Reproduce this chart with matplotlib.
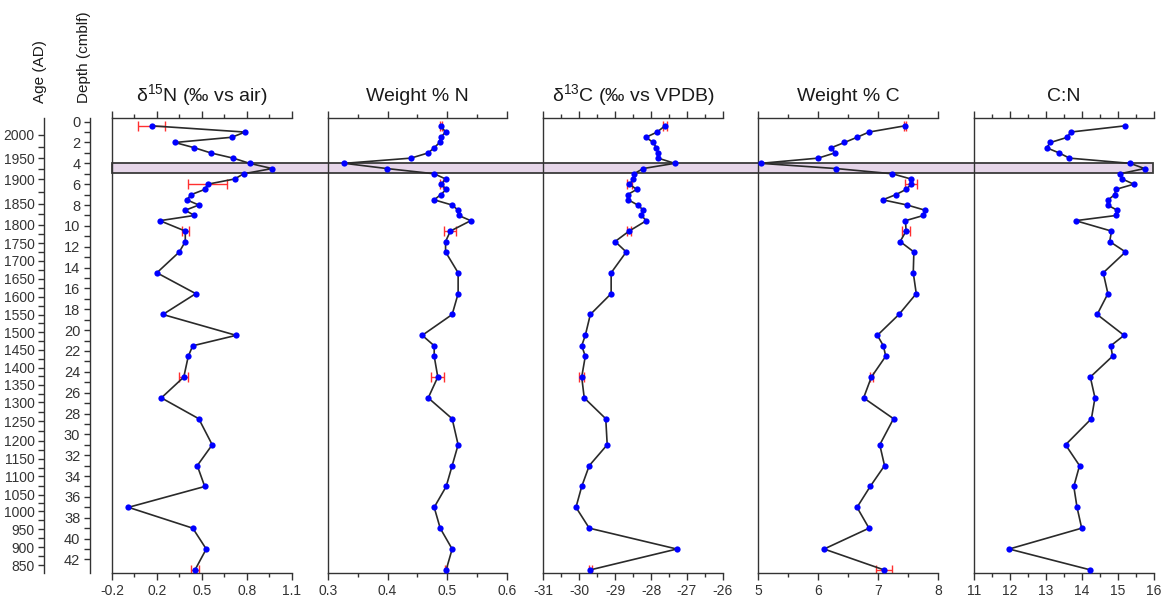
import numpy as np
import matplotlib
matplotlib.use("Agg")
import matplotlib.pyplot as plt
from matplotlib.patches import Rectangle
from matplotlib.ticker import FixedLocator, FixedFormatter, MultipleLocator
import matplotlib.transforms as mtransforms

plt.rcParams['font.family'] = ['Liberation Sans', 'DejaVu Sans']
plt.rcParams['mathtext.fontset'] = 'custom'
plt.rcParams['mathtext.rm'] = 'Liberation Sans'
plt.rcParams['axes.unicode_minus'] = False

# sample depths (cm below lake floor)
depth = [0.4, 1, 1.5, 2, 2.5, 3, 3.5, 4, 4.5, 5, 5.5, 6, 6.5, 7, 7.5, 8, 8.5, 9, 9.5,
         10.5, 11.5, 12.5, 14.5, 16.5, 18.5, 20.5, 21.5, 22.5, 24.5, 26.5, 28.5,
         31, 33, 35, 37, 39, 41, 43]

d15n = [0.165, 0.79, 0.70, 0.32, 0.45, 0.56, 0.71, 0.82, 0.97, 0.78, 0.72, 0.54, 0.52,
        0.43, 0.40, 0.48, 0.39, 0.45, 0.22, 0.39, 0.39, 0.35, 0.20, 0.46, 0.24, 0.73,
        0.44, 0.41, 0.38, 0.23, 0.48, 0.57, 0.47, 0.52, 0.01, 0.44, 0.53, 0.455]

wt_n = [0.489, 0.497, 0.489, 0.487, 0.478, 0.468, 0.439, 0.328, 0.399, 0.478, 0.497,
        0.490, 0.498, 0.489, 0.478, 0.508, 0.518, 0.519, 0.539, 0.505, 0.497, 0.497,
        0.518, 0.518, 0.508, 0.458, 0.478, 0.478, 0.484, 0.468, 0.508, 0.518, 0.508,
        0.498, 0.478, 0.488, 0.508, 0.498]

d13c = [-27.61, -27.83, -28.14, -27.94, -27.85, -27.80, -27.80, -27.34, -28.22, -28.47,
        -28.49, -28.60, -28.40, -28.65, -28.63, -28.37, -28.21, -28.27, -28.13, -28.61,
        -29.00, -28.69, -29.11, -29.11, -29.69, -29.83, -29.93, -29.83, -29.93, -29.86,
        -29.26, -29.22, -29.72, -29.93, -30.09, -29.72, -27.28, -29.69]

wt_c = [7.45, 6.85, 6.65, 6.44, 6.22, 6.28, 6.00, 5.04, 6.30, 7.24, 7.55, 7.56, 7.47,
        7.30, 7.08, 7.49, 7.79, 7.76, 7.46, 7.47, 7.37, 7.60, 7.59, 7.64, 7.35, 6.99,
        7.09, 7.13, 6.89, 6.76, 7.26, 7.03, 7.11, 6.87, 6.65, 6.85, 6.10, 7.10]

c_n = [15.21, 13.69, 13.60, 13.13, 13.02, 13.37, 13.66, 15.35, 15.75, 15.07, 15.13,
       15.45, 14.95, 14.92, 14.74, 14.72, 14.99, 14.96, 13.83, 14.83, 14.78, 15.22,
       14.60, 14.73, 14.43, 15.18, 14.81, 14.86, 14.24, 14.37, 14.27, 13.55, 13.94,
       13.78, 13.87, 14.00, 11.98, 14.24]

# replicate samples (1 sd)
rep_depth = [0.4, 6, 10.5, 24.5, 43]
d15n_sd = [0.09, 0.13, 0.022, 0.031, 0.028]
wt_n_sd = [0.002, 0.003, 0.010, 0.011, 0.002]
d13c_sd = [0.05, 0.06, 0.06, 0.07, 0.05]
wt_c_sd = [0.02, 0.10, 0.07, 0.03, 0.14]

# age-depth model
age_ad = [2000, 1950, 1900, 1850, 1800, 1750, 1700, 1650, 1600, 1550, 1500, 1450,
          1400, 1350, 1300, 1250, 1200, 1150, 1100, 1050, 1000, 950, 900, 850]
age_depth = [1.27, 3.52, 5.54, 7.9, 9.89, 11.67, 13.34, 15.07, 16.79, 18.52, 20.19,
             21.87, 23.59, 25.22, 26.94, 28.72, 30.63, 32.36, 34.03, 35.80, 37.38,
             39.11, 40.83, 42.56]

# highlighted interval (cm)
band_top, band_bottom = 4.0, 4.9

W, H = 1161, 598
fig = plt.figure(figsize=(W / 100, H / 100), dpi=100)

ink = '#333333'
ylim = (43.3, -0.35)
bot = 1 - 573 / H
top = 1 - 118 / H
hgt = top - bot
pw = 179.5 / W

panels = [
    (112.0, d15n, d15n_sd, (-0.1, 1.1), [-0.1, 0.2, 0.5, 0.8, 1.1],
     ['-0.2', '0.2', '0.5', '0.8', '1.1'], 'δ$\\mathregular{^{15}}$N (‰ vs air)'),
    (327.7, wt_n, wt_n_sd, (0.3, 0.6), [0.3, 0.4, 0.5, 0.6],
     ['0.3', '0.4', '0.5', '0.6'], 'Weight % N'),
    (543.3, d13c, d13c_sd, (-31, -26), list(range(-31, -25)),
     [str(v) for v in range(-31, -25)], 'δ$\\mathregular{^{13}}$C (‰ vs VPDB)'),
    (758.3, wt_c, wt_c_sd, (5, 8), [5, 6, 7, 8],
     ['5', '6', '7', '8'], 'Weight % C'),
    (974.0, c_n, None, (11, 16), list(range(11, 17)),
     [str(v) for v in range(11, 17)], 'C:N'),
]

axes = []
for left, vals, sd, xlim, ticks, labels, title in panels:
    ax = fig.add_axes([left / W, bot, pw, hgt])
    ax.set_facecolor('none')
    ax.set_xlim(*xlim)
    ax.set_ylim(*ylim)
    ax.spines['right'].set_visible(False)
    for s in ('left', 'top', 'bottom'):
        ax.spines[s].set_color(ink)
        ax.spines[s].set_linewidth(1.0)
    ax.set_yticks([])
    ax.xaxis.set_major_locator(FixedLocator(ticks))
    ax.xaxis.set_major_formatter(FixedFormatter(labels))
    step = ticks[1] - ticks[0]
    ax.xaxis.set_minor_locator(FixedLocator([t + step / 2 for t in ticks[:-1]]))
    ax.tick_params(axis='x', which='both', top=True, bottom=True, direction='out',
                   color=ink, width=1.0, labelsize=10, labelcolor=ink, pad=3)
    ax.tick_params(axis='x', which='major', length=5)
    ax.tick_params(axis='x', which='minor', length=3.2)
    if sd is not None:
        rep_vals = [vals[depth.index(d)] for d in rep_depth]
        ax.errorbar(rep_vals, rep_depth, xerr=sd, fmt='none', ecolor='#ff3030',
                    elinewidth=1.0, capsize=3.5, capthick=1.0, zorder=2)
    ax.plot(vals, depth, color='#2a2a2a', lw=1.2, zorder=3)
    ax.plot(vals, depth, 'o', color='#0000ff', ms=4.5, mec='#0000ff', mew=0, zorder=4)
    fig.text((left + 179.5 / 2) / W, 1 - 101 / H, title, ha='center', va='baseline',
             fontsize=14, color='#1a1a1a')
    axes.append(ax)

# shaded interval spanning all panels
trans = mtransforms.blended_transform_factory(fig.transFigure, axes[0].transData)
band = Rectangle((112 / W, band_top), (1153 - 112) / W, band_bottom - band_top,
                 transform=trans, facecolor='#e6d6e9', edgecolor='#3a3a3a',
                 lw=1.3, zorder=-1)
fig.add_artist(band)

# depth scale
axd = fig.add_axes([90 / W, bot, 0.0001, hgt])
axd.set_ylim(*ylim)
axd.set_xticks([])
for s in ('right', 'top', 'bottom'):
    axd.spines[s].set_visible(False)
axd.spines['left'].set_color(ink)
axd.spines['left'].set_linewidth(1.0)
axd.yaxis.set_major_locator(MultipleLocator(2))
axd.yaxis.set_minor_locator(FixedLocator(np.arange(1, 43, 2)))
axd.set_yticks(np.arange(0, 43, 2))
axd.tick_params(axis='y', which='both', direction='out', color=ink, width=1.0,
                labelsize=10.5, labelcolor=ink, length=4, pad=3)

# age scale from the age-depth model
axa = fig.add_axes([44.3 / W, bot, 0.0001, hgt])
axa.set_ylim(*ylim)
axa.set_xticks([])
for s in ('right', 'top', 'bottom'):
    axa.spines[s].set_visible(False)
axa.spines['left'].set_color(ink)
axa.spines['left'].set_linewidth(1.0)
axa.yaxis.set_major_locator(FixedLocator(age_depth))
axa.yaxis.set_major_formatter(FixedFormatter([str(a) for a in age_ad]))
mid_ages = [a - 25 for a in age_ad[:-1]]
mid_depth = np.interp(mid_ages, age_ad[::-1], age_depth[::-1])
axa.yaxis.set_minor_locator(FixedLocator(mid_depth))
axa.tick_params(axis='y', which='both', direction='out', color=ink, width=1.0,
                labelsize=10, labelcolor=ink, length=4, pad=3)

fig.text(40 / W, 1 - 103 / H, 'Age (AD)', rotation=90, ha='center', va='bottom',
         fontsize=11, color='#1a1a1a')
fig.text(84 / W, 1 - 103 / H, 'Depth (cmblf)', rotation=90, ha='center', va='bottom',
         fontsize=11, color='#1a1a1a')

fig.savefig('out.png', dpi=100)
